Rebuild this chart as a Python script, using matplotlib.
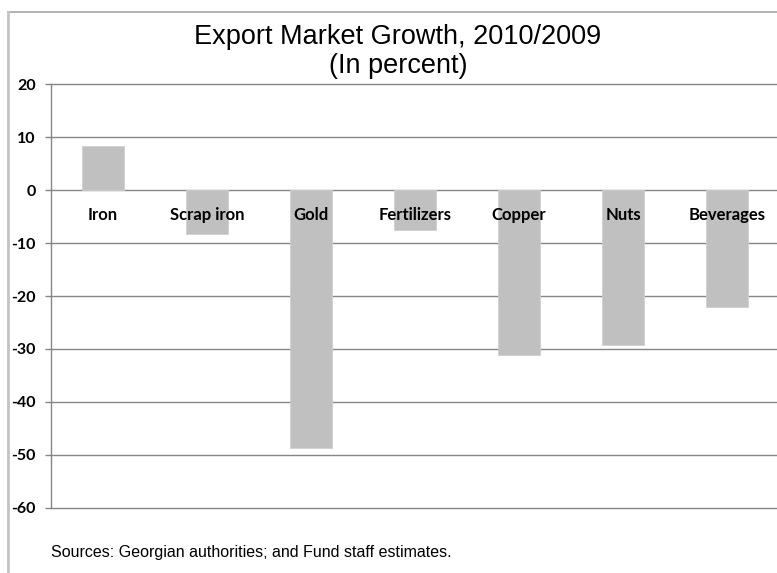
import numpy as np
import matplotlib.pyplot as plt
from matplotlib.lines import Line2D

# export market growth by product, 2010 over 2009 (percent)
products = ["Iron", "Scrap iron", "Gold", "Fertilizers", "Copper", "Nuts", "Beverages"]
growth = [8.3, -8.2, -48.8, -7.5, -31.2, -29.3, -22.0]
yticks = [20, 10, 0, -10, -20, -30, -40, -50, -60]

W, H = 777, 573
fig = plt.figure(figsize=(W / 100, H / 100), dpi=100)

# plot area runs a little past the right edge of the figure
ax = fig.add_axes([51 / W, 65.3 / H, 728 / W, 423.4 / H])

x = np.arange(len(products))
ax.bar(x, growth, width=0.4, color="#c0c0c0", edgecolor="#d0d0d0", linewidth=0.6, zorder=2)

ax.set_xlim(-0.5, len(products) - 0.5)
ax.set_ylim(-60, 20)
ax.set_yticks(yticks)
ax.set_yticklabels([str(t) for t in yticks], fontfamily="Lato", fontweight="bold", fontsize=11.5)
ax.set_xticks([])
for t in yticks:
    ax.axhline(t, color="#868686", linewidth=1.0, zorder=1, clip_on=False)

for side in ["top", "right", "bottom"]:
    ax.spines[side].set_visible(False)
ax.spines["left"].set_color("#868686")
ax.spines["left"].set_linewidth(1.0)
ax.tick_params(axis="y", direction="out", length=4, width=1.0, color="#868686", pad=7)

# category names sit just under the zero line, over the bars
for i, name in enumerate(products):
    ax.annotate(name, xy=(i, 0), xytext=(0, -18), textcoords="offset points",
                ha="center", va="center", fontfamily="Lato", fontweight="bold",
                fontsize=12, zorder=3)

fig.text(398 / W, 1 - 37 / H, "Export Market Growth, 2010/2009", ha="center", va="center",
         fontfamily="Liberation Sans", fontsize=19.5)
fig.text(398 / W, 1 - 66 / H, "(In percent)", ha="center", va="center",
         fontfamily="Liberation Sans", fontsize=19.5)
fig.text(51 / W, 1 - 553 / H, "Sources: Georgian authorities; and Fund staff estimates.",
         ha="left", va="center", fontfamily="Liberation Sans", fontsize=11.5)

# chart frame (top and left edges visible)
fig.add_artist(Line2D([8 / W, 1.0], [1 - 11.5 / H, 1 - 11.5 / H], color="#a6a6a6", linewidth=1.2))
fig.add_artist(Line2D([8 / W, 8 / W], [0.0, 1 - 11.5 / H], color="#c4c4c4", linewidth=2.0))

fig.savefig("out.png", dpi=100)
